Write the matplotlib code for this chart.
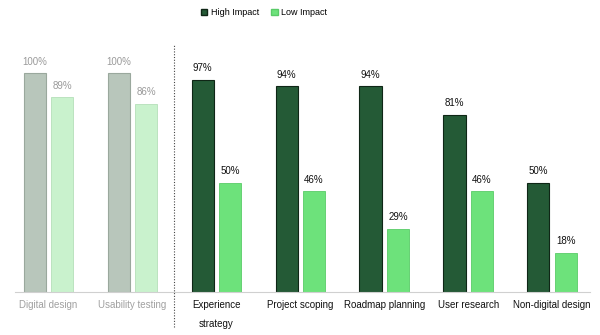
import matplotlib.pyplot as plt
from matplotlib.patches import Patch

plt.rcParams['font.family'] = ['Liberation Sans', 'DejaVu Sans']

categories = ['Digital design', 'Usability testing', 'Experience\nstrategy',
              'Project scoping', 'Roadmap planning', 'User research', 'Non-digital design']
high = [100, 100, 97, 94, 94, 81, 50]
low = [89, 86, 50, 46, 29, 46, 18]
n_faded = 2  # first two categories are greyed out (baseline)

fig = plt.figure(figsize=(6, 3.35), dpi=100)
ax = fig.add_axes([0.025, 0.128, 0.958, 0.737])

w = 0.265
off = 0.163
for i, cat in enumerate(categories):
    faded = i < n_faded
    c_hi = '#b8c6bb' if faded else '#245a36'
    c_lo = '#c9f2cd' if faded else '#6de27b'
    e_hi = '#9aa89d' if faded else '#0f2616'
    e_lo = '#b5e0b9' if faded else '#5acb68'
    txt = '#9a9a9a' if faded else '#111111'
    ax.bar(i - off, high[i], w, color=c_hi, edgecolor=e_hi, linewidth=0.8)
    ax.bar(i + off, low[i], w, color=c_lo, edgecolor=e_lo, linewidth=0.6)
    ax.text(i - off, high[i] + 3, f'{high[i]}%', ha='center', va='bottom', fontsize=7, color=txt)
    ax.text(i + off, low[i] + 3, f'{low[i]}%', ha='center', va='bottom', fontsize=7, color=txt)

ax.set_xlim(-0.4, 6.45)
ax.set_ylim(0, 112.8)
ax.set_xticks(range(len(categories)))
ax.set_xticklabels(categories, fontsize=7, linespacing=2.1)
for i, lbl in enumerate(ax.get_xticklabels()):
    lbl.set_color('#a0a0a0' if i < n_faded else '#111111')
ax.tick_params(axis='x', length=0, pad=6)
ax.set_yticks([])
for s in ['top', 'right', 'left']:
    ax.spines[s].set_visible(False)
ax.spines['bottom'].set_color('#d0d0d0')
ax.spines['bottom'].set_linewidth(0.8)

# separator between greyed-out and highlighted groups
ax.plot([1.5, 1.5], [-16, 112.8], color='#444444', linestyle=(0, (1, 1.5)),
        linewidth=0.8, clip_on=False)

handles = [Patch(facecolor='#245a36', edgecolor='#0f2616', label='High Impact'),
           Patch(facecolor='#6de27b', edgecolor='#5acb68', label='Low Impact')]
fig.legend(handles=handles, loc='upper center', bbox_to_anchor=(0.44, 1.0), ncol=2,
           frameon=False, fontsize=6.5, handlelength=0.7, handleheight=0.7,
           handletextpad=0.4, columnspacing=1.4)

fig.savefig('out.png', dpi=100)
